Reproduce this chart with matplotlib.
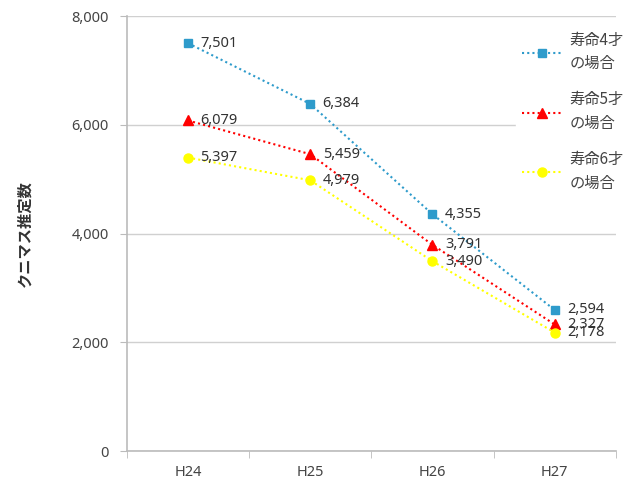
import matplotlib
matplotlib.use("Agg")
import matplotlib.pyplot as plt

plt.rcParams['font.family'] = ['Noto Sans CJK JP', 'DejaVu Sans']

categories = ["H24", "H25", "H26", "H27"]
life4 = [7501, 6384, 4355, 2594]
life5 = [6079, 5459, 3791, 2327]
life6 = [5397, 4979, 3490, 2178]
series_names = ["寿命4才\nの場合", "寿命5才\nの場合", "寿命6才\nの場合"]
yticks = [0, 2000, 4000, 6000, 8000]

fig = plt.figure(figsize=(6.31, 4.86), dpi=100)
ax = fig.add_axes([0.201, 0.072, 0.775, 0.895])

x = list(range(len(categories)))
styles = [
    (life4, "#2E9BCB", "s", 6),
    (life5, "#FF0000", "^", 6.5),
    (life6, "#FFFF00", "o", 6.5),
]
handles = []
for (vals, col, mk, ms), name in zip(styles, series_names):
    h, = ax.plot(x, vals, linestyle=(0, (1, 1.5)), color=col, lw=1.5,
                 marker=mk, markersize=ms, markerfacecolor=col,
                 markeredgecolor=col, label=name, zorder=3)
    handles.append(h)
    for xi, v in zip(x, vals):
        ax.annotate(f"{v:,}", (xi, v), xytext=(9, 0), textcoords="offset points",
                    va="center", ha="left", fontsize=10.5, color="#333333",
                    family=["Noto Sans", "DejaVu Sans"], zorder=4)

ax.set_xlim(-0.5, 3.5)
ax.set_ylim(0, 8000)
ax.set_yticks(yticks)
ax.set_yticklabels([f"{t:,}" for t in yticks], family=["Noto Sans", "DejaVu Sans"],
                   fontsize=10.5, color="#444444")
ax.set_xticks(x)
ax.set_xticklabels(categories, family=["Noto Sans", "DejaVu Sans"], fontsize=10.5, color="#444444")
ax.tick_params(axis="x", length=0, pad=10)
ax.set_xticks([-0.5, 0.5, 1.5, 2.5, 3.5], minor=True)
ax.tick_params(axis="x", which="minor", length=5, color="#BBBBBB", direction="out")
ax.tick_params(axis="y", length=5, color="#BBBBBB", pad=8)
ax.grid(axis="y", color="#D0D0D0", lw=1)
ax.set_axisbelow(True)
for s in ["top", "right"]:
    ax.spines[s].set_visible(False)
ax.spines["left"].set_color("#BBBBBB")
ax.spines["bottom"].set_color("#BBBBBB")
ax.spines["left"].set_linewidth(1.2)
ax.spines["bottom"].set_linewidth(1.2)

ax.set_ylabel("クニマス推定数", fontsize=11, fontweight="bold", color="#333333", labelpad=28)

leg = ax.legend(handles=handles, loc="upper left", bbox_to_anchor=(0.79, 0.985),
                frameon=True, fontsize=11, labelspacing=1.25, handlelength=2.6,
                handletextpad=0.5, borderaxespad=0.2, borderpad=0.4)
leg.get_frame().set_facecolor("white")
leg.get_frame().set_edgecolor("white")
leg.get_frame().set_alpha(1)
for t in leg.get_texts():
    t.set_color("#444444")
    t.set_linespacing(1.5)

fig.savefig("out.png", dpi=100)
